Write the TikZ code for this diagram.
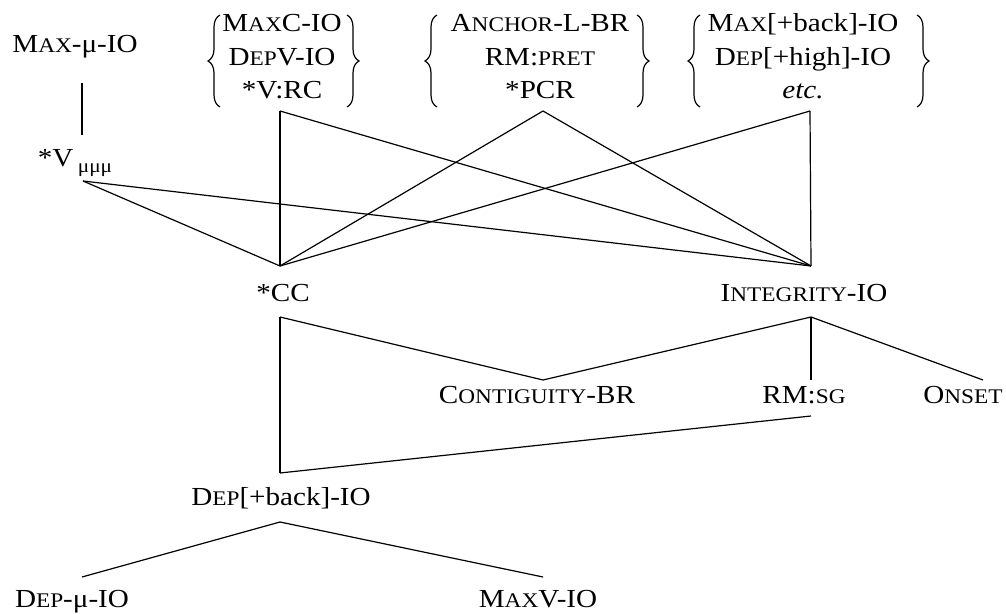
\documentclass[tikz,border=0pt]{standalone}
\usepackage{fontspec}
\setmainfont{Liberation Serif}[FakeStretch=1.12]
\usetikzlibrary{decorations.pathreplacing}
\newcommand{\fsc}[1]{{\fontsize{10.4}{12}\selectfont #1}}
\newcommand{\musub}{\,\raisebox{-3pt}{\fontsize{9.5}{10}\selectfont μμμ}}
\newcommand{\grptab}[1]{\begin{tabular}[t]{@{}c@{}}#1\end{tabular}}
\begin{document}
\begin{tikzpicture}[x=0.5pt,y=-0.5pt,
  lab/.style={inner sep=0pt, anchor=base, font=\fontsize{13}{16.75}\selectfont},
  edge/.style={line width=0.6pt},
  brc/.style={line width=0.6pt, decorate, decoration={brace, amplitude=6pt}}]
\path[use as bounding box] (0,0) rectangle (1006,614);

% text nodes
\node[lab] (maxmu) at (75,53) {M\fsc{AX}-μ-IO};
\node[lab] (vmu) at (75,167) {*V\musub};
\node[lab] (g1) at (282,32) {\grptab{M\fsc{AX}C-IO\\ D\fsc{EP}V-IO\\ {*}V:RC}};
\node[lab] (g2) at (540,32) {\grptab{A\fsc{NCHOR}-L-BR\\ RM:\fsc{PRET}\\ {*}PCR}};
\node[lab] (g3) at (803,32) {\grptab{M\fsc{AX}[+back]-IO\\ D\fsc{EP}[+high]-IO\\ \textit{etc.}}};
\node[lab] (cc) at (283,302) {*CC};
\node[lab] (integ) at (804,302) {I\fsc{NTEGRITY}-IO};
\node[lab] (contig) at (537,404) {C\fsc{ONTIGUITY}-BR};
\node[lab] (rmsg) at (804,404) {RM:\fsc{SG}};
\node[lab] (onset) at (963,404) {O\fsc{NSET}};
\node[lab] (depback) at (281,505) {D\fsc{EP}[+back]-IO};
\node[lab] (depmu) at (72,607) {D\fsc{EP}-μ-IO};
\node[lab] (maxv) at (538,607) {M\fsc{AX}V-IO};

% braces
\draw[brc] (220,107) -- (220,15);
\draw[brc] (347,15) -- (347,107);
\draw[brc] (437,107) -- (437,15);
\draw[brc] (637,15) -- (637,107);
\draw[brc] (700,107) -- (700,15);
\draw[brc] (917,15) -- (917,107);

% connector end points
\coordinate (maxmu-s) at (82,83);
\coordinate (vmu-n) at (82,135);
\coordinate (vmu-s) at (83,181);
\coordinate (g1-s) at (280,111);
\coordinate (g2-s) at (543,111);
\coordinate (g3-s) at (810,111);
\coordinate (cc-n) at (280,266);
\coordinate (cc-s) at (280,317);
\coordinate (in-n) at (811,266);
\coordinate (in-s) at (811,317);
\coordinate (co-n) at (543,380);
\coordinate (rm-n) at (811,380);
\coordinate (rm-s) at (811,416);
\coordinate (on-n) at (983,380);
\coordinate (db-n) at (280,473);
\coordinate (db-s) at (280,522);
\coordinate (dm-n) at (82,577);
\coordinate (mv-n) at (543,577);

% connectors
\draw[edge] (maxmu-s) -- (vmu-n);
\draw[edge] (vmu-s) -- (cc-n);
\draw[edge] (vmu-s) -- (in-n);
\draw[edge] (g1-s) -- (cc-n);
\draw[edge] (g1-s) -- (in-n);
\draw[edge] (g2-s) -- (cc-n);
\draw[edge] (g2-s) -- (in-n);
\draw[edge] (g3-s) -- (cc-n);
\draw[edge] (g3-s) -- (in-n);
\draw[edge] (cc-s) -- (co-n);
\draw[edge] (cc-s) -- (db-n);
\draw[edge] (in-s) -- (co-n);
\draw[edge] (in-s) -- (rm-n);
\draw[edge] (in-s) -- (on-n);
\draw[edge] (rm-s) -- (db-n);
\draw[edge] (db-s) -- (dm-n);
\draw[edge] (db-s) -- (mv-n);
\end{tikzpicture}
\end{document}
